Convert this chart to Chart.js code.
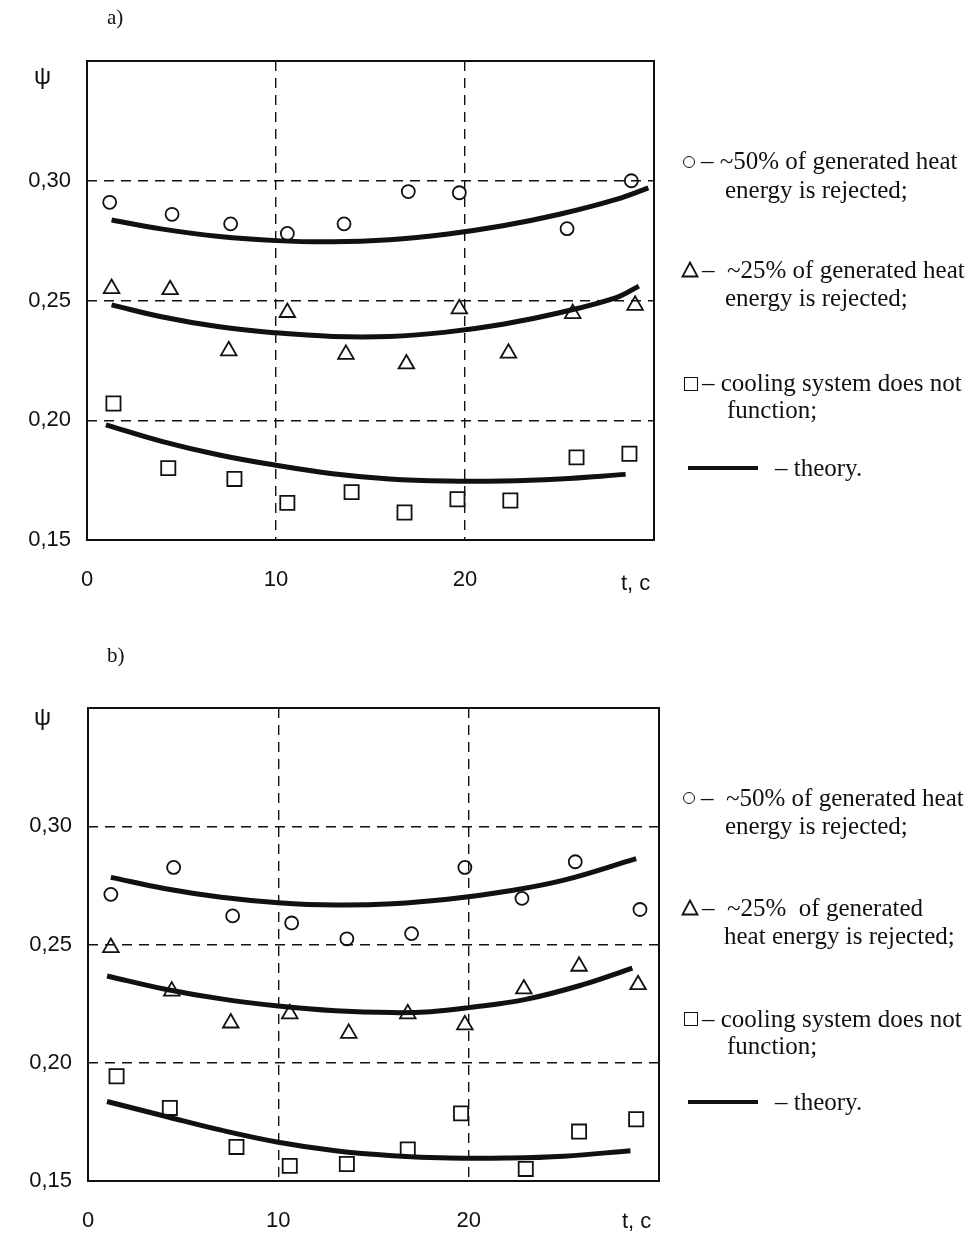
<!DOCTYPE html>
<html>
<head>
<meta charset="utf-8">
<script src="https://cdn.jsdelivr.net/npm/chart.js@4"></script>
<style>
  body { margin: 0; background: #fff; width: 971px; height: 1236px; position: relative; overflow: hidden; }
  canvas { position: absolute; left: 0; }
  .t { position: absolute; white-space: pre; color: #111; }
  .serif { font-family: "Liberation Serif", "Times New Roman", serif; font-size: 25px; line-height: 28px; }
  .sans { font-family: "Liberation Sans", Arial, sans-serif; font-size: 22px; line-height: 24px; }
  .mk { position: absolute; box-sizing: border-box; border: 1.8px solid #111; }
  .circ { width: 12px; height: 12px; border-radius: 50%; }
  .sq { width: 14px; height: 14px; }
  .bar { position: absolute; height: 4px; background: #111; }
</style>
</head>
<body>
<canvas id="chartA" width="971" height="620" style="top:0"></canvas>
<canvas id="chartB" width="971" height="616" style="top:620px"></canvas>

<!-- captions and axis labels -->
<div class="t serif" style="left:107px;top:3px;font-size:21px">a)</div>
<div class="t serif" style="left:107px;top:641px;font-size:21px">b)</div>
<div class="t sans" style="left:34px;top:64px;font-size:24px">ψ</div>
<div class="t sans" style="left:34px;top:705px;font-size:24px">ψ</div>
<div class="t sans" style="left:621px;top:571px">t, c</div>
<div class="t sans" style="left:622px;top:1209px">t, c</div>

<!-- legend a -->
<div class="mk circ" style="left:683px;top:156px"></div>
<div class="t serif" style="left:701px;top:147px">– ~50% of generated heat</div>
<div class="t serif" style="left:725px;top:176px">energy is rejected;</div>
<svg style="position:absolute;left:681px;top:261px" width="18" height="17"><path d="M9 1.5 L16.5 15.5 L1.5 15.5 Z" fill="none" stroke="#111" stroke-width="1.8"/></svg>
<div class="t serif" style="left:702px;top:256px">–  ~25% of generated heat</div>
<div class="t serif" style="left:725px;top:284px">energy is rejected;</div>
<div class="mk sq" style="left:684px;top:377px"></div>
<div class="t serif" style="left:702px;top:369px">– cooling system does not</div>
<div class="t serif" style="left:727px;top:396px">function;</div>
<div class="bar" style="left:688px;top:466px;width:70px"></div>
<div class="t serif" style="left:775px;top:454px">– theory.</div>

<!-- legend b -->
<div class="mk circ" style="left:683px;top:792px"></div>
<div class="t serif" style="left:701px;top:784px">–  ~50% of generated heat</div>
<div class="t serif" style="left:725px;top:812px">energy is rejected;</div>
<svg style="position:absolute;left:681px;top:899px" width="18" height="17"><path d="M9 1.5 L16.5 15.5 L1.5 15.5 Z" fill="none" stroke="#111" stroke-width="1.8"/></svg>
<div class="t serif" style="left:702px;top:894px">–  ~25%  of generated</div>
<div class="t serif" style="left:724px;top:922px">heat energy is rejected;</div>
<div class="mk sq" style="left:684px;top:1012px"></div>
<div class="t serif" style="left:702px;top:1005px">– cooling system does not</div>
<div class="t serif" style="left:727px;top:1032px">function;</div>
<div class="bar" style="left:688px;top:1100px;width:70px"></div>
<div class="t serif" style="left:775px;top:1088px">– theory.</div>

<script>
// ---- chart a) ----
const tCircA = [1.2, 4.5, 7.6, 10.6, 13.6, 17.0, 19.7, 25.4, 28.8];
const psiCircA = [0.291, 0.286, 0.282, 0.278, 0.282, 0.2955, 0.295, 0.280, 0.300];
const tTriA = [1.3, 4.4, 7.5, 10.6, 13.7, 16.9, 19.7, 22.3, 25.7, 29.0];
const psiTriA = [0.255, 0.2545, 0.229, 0.245, 0.2275, 0.2235, 0.2465, 0.228, 0.2445, 0.248];
const tSqA = [1.4, 4.3, 7.8, 10.6, 14.0, 16.8, 19.6, 22.4, 25.9, 28.7];
const psiSqA = [0.207, 0.180, 0.1755, 0.1655, 0.170, 0.1615, 0.167, 0.1665, 0.1845, 0.186];
const tTopA = [1.3, 4, 7, 10, 13, 16, 19, 22, 25, 28, 29.7];
const psiTopA = [0.2836, 0.2798, 0.2767, 0.2750, 0.2745, 0.2754, 0.2777, 0.2812, 0.2860, 0.2922, 0.2970];
const tMidA = [1.3, 4, 7, 10, 13, 16, 19, 22, 25, 28, 29.2];
const psiMidA = [0.2482, 0.2431, 0.2390, 0.2365, 0.2350, 0.2350, 0.2368, 0.2401, 0.2449, 0.2512, 0.2560];
const tLowA = [1, 4, 7, 10, 13, 16, 19, 22, 25, 28.5];
const psiLowA = [0.1981, 0.1911, 0.1855, 0.1812, 0.1777, 0.1755, 0.1746, 0.1746, 0.1755, 0.1774];

// ---- chart b) ----
const tCircB = [1.2, 4.5, 7.6, 10.7, 13.6, 17.0, 19.8, 22.8, 25.6, 29.0];
const psiCircB = [0.2712, 0.2826, 0.2621, 0.2591, 0.2524, 0.2546, 0.2826, 0.2695, 0.2850, 0.2648];
const tTriB = [1.2, 4.4, 7.5, 10.6, 13.7, 16.8, 19.8, 22.9, 25.8, 28.9];
const psiTriB = [0.2487, 0.2303, 0.2168, 0.2207, 0.2124, 0.2207, 0.2160, 0.2312, 0.2408, 0.2330];
const tSqB = [1.5, 4.3, 7.8, 10.6, 13.6, 16.8, 19.6, 23.0, 25.8, 28.8];
const psiSqB = [0.1943, 0.1809, 0.1644, 0.1564, 0.1572, 0.1633, 0.1786, 0.1551, 0.1709, 0.1761];
const tTopB = [1.2, 4, 7, 10, 13, 16, 19, 22, 25, 28.8];
const psiTopB = [0.2784, 0.2737, 0.2700, 0.2677, 0.2667, 0.2672, 0.2692, 0.2725, 0.2772, 0.2863];
const tMidB = [1, 4, 7, 10, 13, 16, 18, 20, 23, 26, 28.6];
const psiMidB = [0.2367, 0.2312, 0.2270, 0.2240, 0.2220, 0.2212, 0.2216, 0.2233, 0.2268, 0.2330, 0.2400];
const tLowB = [1, 4, 7, 10, 13, 16, 19, 22, 25, 28.5];
const psiLowB = [0.1836, 0.1775, 0.1715, 0.1664, 0.1628, 0.1607, 0.1597, 0.1597, 0.1605, 0.1628];

const yTicks = [0.15, 0.20, 0.25, 0.30];
const xTicks = [0, 10, 20];

const INK = '#111';
const pts = (xs, ys) => xs.map((x, i) => ({ x: x, y: ys[i] }));

const framePlugin = {
  id: 'frame',
  afterDatasetsDraw(chart) {
    const { ctx, chartArea: a } = chart;
    ctx.save();
    ctx.strokeStyle = INK;
    ctx.lineWidth = 2;
    ctx.strokeRect(a.left, a.top, a.right - a.left, a.bottom - a.top);
    ctx.restore();
  }
};

function markers(xs, ys, style, r) {
  return {
    data: pts(xs, ys), showLine: false,
    pointStyle: style, pointRadius: r, pointHoverRadius: r,
    pointBorderColor: INK, pointBackgroundColor: 'rgba(0,0,0,0)', pointBorderWidth: 1.8
  };
}
function theory(xs, ys) {
  return {
    data: pts(xs, ys), showLine: true, borderColor: INK, borderWidth: 5,
    pointRadius: 0, tension: 0.4, fill: false
  };
}

function makeChart(id, sets, area, h) {
  const grid = { color: INK, lineWidth: 1.4, drawTicks: false };
  new Chart(document.getElementById(id), {
    type: 'scatter',
    data: { datasets: sets },
    options: {
      responsive: false, animation: false,
      layout: { padding: { left: 0, top: area.top, right: 971 - area.right, bottom: 0 } },
      plugins: { legend: { display: false }, tooltip: { enabled: false } },
      scales: {
        x: {
          type: 'linear', min: 0, max: 30,
          grid: grid, border: { display: false, dash: [10, 7] },
          afterFit: s => { s.height = h - area.bottom; },
          ticks: {
            stepSize: 10, padding: 27, color: INK,
            font: { family: 'Liberation Sans', size: 22 },
            callback: v => xTicks.includes(v) ? String(v) : ''
          }
        },
        y: {
          type: 'linear', min: 0.15, max: 0.35,
          grid: grid, border: { display: false, dash: [10, 7] },
          afterFit: s => { s.width = area.left; },
          ticks: {
            stepSize: 0.05, padding: 16, color: INK,
            font: { family: 'Liberation Sans', size: 22 },
            callback: v => yTicks.some(t => Math.abs(t - v) < 1e-6) ? v.toFixed(2).replace('.', ',') : ''
          }
        }
      }
    },
    plugins: [framePlugin]
  });
}

makeChart('chartA', [
  markers(tCircA, psiCircA, 'circle', 6.5),
  markers(tTriA, psiTriA, 'triangle', 9),
  markers(tSqA, psiSqA, 'rect', 10),
  theory(tTopA, psiTopA),
  theory(tMidA, psiMidA),
  theory(tLowA, psiLowA)
], { left: 87, right: 654, top: 61, bottom: 540 }, 620);

makeChart('chartB', [
  markers(tCircB, psiCircB, 'circle', 6.5),
  markers(tTriB, psiTriB, 'triangle', 9),
  markers(tSqB, psiSqB, 'rect', 10),
  theory(tTopB, psiTopB),
  theory(tMidB, psiMidB),
  theory(tLowB, psiLowB)
], { left: 88, right: 659, top: 88, bottom: 561 }, 616);
</script>
</body>
</html>
